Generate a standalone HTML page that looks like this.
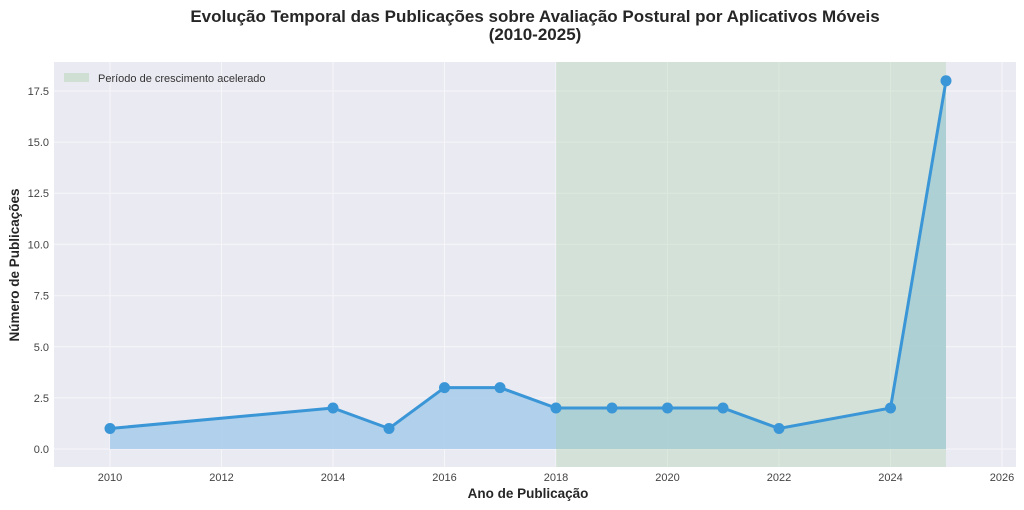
<!DOCTYPE html>
<html><head><meta charset="utf-8"><style>body{margin:0;background:#fff}svg{display:block;font-family:"Liberation Sans",sans-serif}</style></head><body>
<svg width="1024" height="510" xmlns="http://www.w3.org/2000/svg">
<text x="535" y="22" font-size="17" font-weight="bold" text-anchor="middle" fill="#262626">Evolução Temporal das Publicações sobre Avaliação Postural por Aplicativos Móveis</text>
<text x="535" y="40" font-size="17" font-weight="bold" text-anchor="middle" fill="#262626">(2010-2025)</text>
<rect x="54" y="62" width="962" height="405" fill="#eaeaf2"/>
<g stroke="#ffffff" stroke-width="1" opacity="0.6">
<line x1="110" y1="62" x2="110" y2="467"/><line x1="221.5" y1="62" x2="221.5" y2="467"/><line x1="333" y1="62" x2="333" y2="467"/><line x1="444.5" y1="62" x2="444.5" y2="467"/><line x1="556" y1="62" x2="556" y2="467"/><line x1="667.5" y1="62" x2="667.5" y2="467"/><line x1="779" y1="62" x2="779" y2="467"/><line x1="890.5" y1="62" x2="890.5" y2="467"/><line x1="1002" y1="62" x2="1002" y2="467"/>
<line x1="54" y1="449" x2="1016" y2="449"/><line x1="54" y1="397.9" x2="1016" y2="397.9"/><line x1="54" y1="346.7" x2="1016" y2="346.7"/><line x1="54" y1="295.6" x2="1016" y2="295.6"/><line x1="54" y1="244.4" x2="1016" y2="244.4"/><line x1="54" y1="193.3" x2="1016" y2="193.3"/><line x1="54" y1="142.1" x2="1016" y2="142.1"/><line x1="54" y1="91" x2="1016" y2="91"/>
</g>
<polygon points="110,449 110,428.5 333,408 389,428.5 444.5,387.6 500,387.6 556,408 612,408 667.5,408 723,408 779,428.5 890.5,408 946,80.8 946,449" fill="#a6cbea" opacity="0.85"/>
<rect x="556" y="62" width="390" height="405" fill="#a8d0a8" opacity="0.35"/>
<polyline points="110,428.5 333,408 389,428.5 444.5,387.6 500,387.6 556,408 612,408 667.5,408 723,408 779,428.5 890.5,408 946,80.8" fill="none" stroke="#3a96d6" stroke-width="3"/>
<g fill="#3a96d6">
<circle cx="110" cy="428.5" r="5.5"/><circle cx="333" cy="408" r="5.5"/><circle cx="389" cy="428.5" r="5.5"/><circle cx="444.5" cy="387.6" r="5.5"/><circle cx="500" cy="387.6" r="5.5"/><circle cx="556" cy="408" r="5.5"/><circle cx="612" cy="408" r="5.5"/><circle cx="667.5" cy="408" r="5.5"/><circle cx="723" cy="408" r="5.5"/><circle cx="779" cy="428.5" r="5.5"/><circle cx="890.5" cy="408" r="5.5"/><circle cx="946" cy="80.8" r="5.5"/>
</g>
<rect x="64" y="73" width="25" height="9" fill="#cfdfd3"/>
<text x="98" y="82" font-size="11" fill="#333">Período de crescimento acelerado</text>
<g font-size="11" fill="#444" text-anchor="end">
<text x="49" y="453">0.0</text><text x="49" y="402">2.5</text><text x="49" y="351">5.0</text><text x="49" y="299.5">7.5</text><text x="49" y="248.5">10.0</text><text x="49" y="197">12.5</text><text x="49" y="146">15.0</text><text x="49" y="95">17.5</text>
</g>
<g font-size="11" fill="#444" text-anchor="middle">
<text x="110" y="481">2010</text><text x="221.5" y="481">2012</text><text x="333" y="481">2014</text><text x="444.5" y="481">2016</text><text x="556" y="481">2018</text><text x="667.5" y="481">2020</text><text x="779" y="481">2022</text><text x="890.5" y="481">2024</text><text x="1002" y="481">2026</text>
</g>
<text x="528" y="498" font-size="13.5" font-weight="bold" text-anchor="middle" fill="#262626">Ano de Publicação</text>
<text transform="translate(19,265) rotate(-90)" font-size="13.5" font-weight="bold" text-anchor="middle" fill="#262626">Número de Publicações</text>
</svg>
</body></html>
